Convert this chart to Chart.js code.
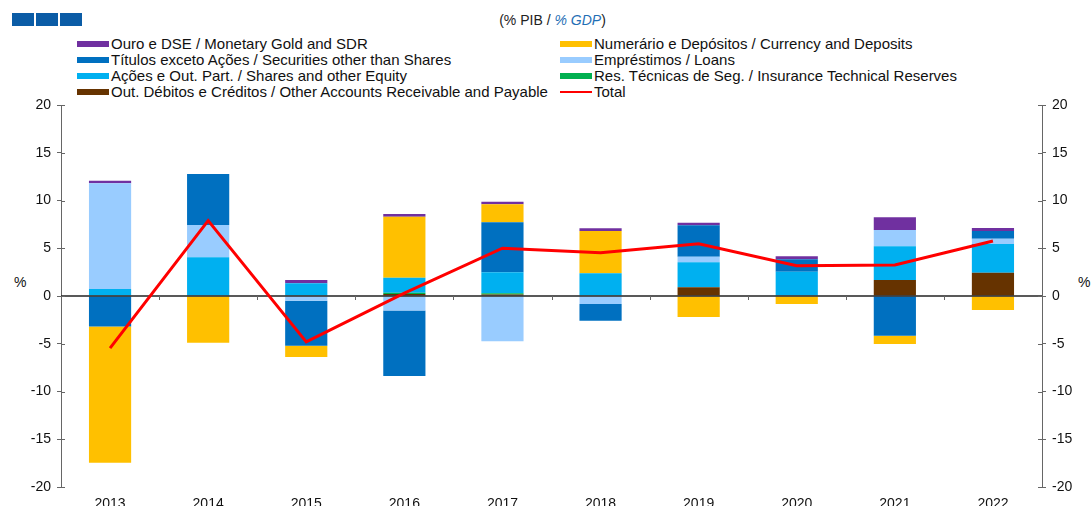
<!DOCTYPE html>
<html>
<head>
<meta charset="utf-8">
<script src="https://cdn.jsdelivr.net/npm/chart.js@4.4.1/dist/chart.umd.min.js"></script>
<style>
  body { margin: 0; background: #fff; font-family: 'Liberation Sans', Arial, sans-serif; }
  #wrap { position: relative; width: 1091px; height: 506px; overflow: hidden; }
  #myChart { position: absolute; left: 0; top: 0; }
  .logo { position: absolute; top: 13px; height: 13px; width: 22px; background: #0b5ca6; }
  #subtitle { position: absolute; top: 12px; left: 0; width: 1105px; text-align: center;
    font-family: 'Liberation Sans Narrow', 'Liberation Sans', Arial, sans-serif; font-size: 14px; color: #222; }
  #subtitle i { color: #1f6fb5; }
  .leg { position: absolute; font-size: 15px; color: #111; white-space: nowrap; line-height: 16px; }
  .leg span.sw { display: inline-block; width: 32px; height: 6px; vertical-align: middle; margin-right: 2px; position: relative; top: -1px; }
  .leg span.ln { display: inline-block; width: 32px; height: 2px; background: #ff0000; vertical-align: middle; margin-right: 2px; position: relative; top: -1px; }
  .pct { position: absolute; top: 274px; font-size: 14px; color: #111; }
</style>
</head>
<body>
<div id="wrap">
  <div class="logo" style="left:12px"></div>
  <div class="logo" style="left:36px"></div>
  <div class="logo" style="left:60px"></div>
  <div id="subtitle">(% PIB / <i>% GDP</i>)</div>
  <div id="legend"></div>
  <div class="pct" style="left:14px">%</div>
  <div class="pct" style="left:1078px">%</div>
  <canvas id="myChart" width="1091" height="506"></canvas>
</div>
<script>
// Categories and series (% of GDP)
const years = ['2013', '2014', '2015', '2016', '2017', '2018', '2019', '2020', '2021', '2022'];
const otherAccounts = [0, 0, 0, 0.2, 0.15, 0, 0.91, 0, 1.68, 2.44];
const insurance = [0, 0, 0, 0.15, 0.13, 0, 0, 0, 0, 0];
const shares = [0.73, 4.05, 1.33, 1.57, 2.2, 2.37, 2.62, 2.55, 3.52, 3.0];
const loans = [11.07, 3.38, -0.5, -1.53, -4.75, -0.84, 0.59, 0, 1.71, 0.56];
const securities = [-3.2, 5.34, -4.7, -6.85, 5.23, -1.74, 3.28, 1.29, -4.15, 0.8];
const currency = [-14.25, -4.89, -1.2, 6.39, 1.89, 4.43, -2.2, -0.84, -0.88, -1.47];
const gold = [0.27, 0, 0.34, 0.28, 0.28, 0.29, 0.28, 0.31, 1.33, 0.32];
const total = [-5.45, 7.89, -4.8, 0.3, 5.0, 4.54, 5.48, 3.18, 3.25, 5.76];
const yTicks = [-20, -15, -10, -5, 0, 5, 10, 15, 20];

// Legend entries in the order shown (two columns)
const legendItems = [
  { label: 'Ouro e DSE / Monetary Gold and SDR', color: '#7030a0' },
  { label: 'Numerário e Depósitos / Currency and Deposits', color: '#ffc000' },
  { label: 'Títulos exceto Ações / Securities other than Shares', color: '#0070c0' },
  { label: 'Empréstimos / Loans', color: '#99ccff' },
  { label: 'Ações e Out. Part. / Shares and other Equity', color: '#00b0f0' },
  { label: 'Res. Técnicas de Seg. / Insurance Technical Reserves', color: '#00b050' },
  { label: 'Out. Débitos e Créditos / Other Accounts Receivable and Payable', color: '#663300' },
  { label: 'Total', color: '#ff0000', line: true }
];

document.addEventListener('DOMContentLoaded', () => {
  const legend = document.getElementById('legend');
  legendItems.forEach((item, i) => {
    const div = document.createElement('div');
    div.className = 'leg';
    div.style.left = (i % 2 === 0 ? 77 : 560) + 'px';
    div.style.top = (36 + Math.floor(i / 2) * 16) + 'px';
    const sw = item.line
      ? '<span class="ln"></span>'
      : `<span class="sw" style="background:${item.color}"></span>`;
    div.innerHTML = sw + item.label;
    legend.appendChild(div);
  });

  const canvas = document.getElementById('myChart');
  const font = { family: "'Liberation Sans', Arial, sans-serif", size: 14 };
  const axisColor = '#666';

  const bar = (label, data, color) => ({
    type: 'bar', label, data, backgroundColor: color, borderWidth: 0,
    stack: 's', order: 1, barPercentage: 0.43, categoryPercentage: 1
  });

  // zero line, inner ticks on y axes and category ticks under the zero line
  const decor = {
    id: 'decor',
    beforeDatasetDraw(chart, args) {
      if (args.index !== 7) return;
      const { ctx, chartArea, scales } = chart;
      const y0 = scales.y.getPixelForValue(0);
      ctx.save();
      ctx.strokeStyle = '#222';
      ctx.lineWidth = 1.5;
      ctx.beginPath();
      ctx.moveTo(chartArea.left, y0);
      ctx.lineTo(chartArea.right, y0);
      ctx.stroke();
      ctx.lineWidth = 1;
      const step = (chartArea.right - chartArea.left) / years.length;
      ctx.beginPath();
      for (let i = 1; i < years.length; i++) {
        const x = Math.round(chartArea.left + i * step) + 0.5;
        ctx.moveTo(x, y0);
        ctx.lineTo(x, y0 + 4);
      }
      ctx.strokeStyle = axisColor;
      yTicks.forEach(v => {
        const y = Math.round(scales.y.getPixelForValue(v)) + 0.5;
        ctx.moveTo(chartArea.left, y);
        ctx.lineTo(chartArea.left + 4, y);
        ctx.moveTo(chartArea.right, y);
        ctx.lineTo(chartArea.right - 4, y);
      });
      ctx.stroke();
      ctx.restore();
    }
  };

  const yAxis = (position, width) => ({
    position,
    min: -20, max: 20,
    afterBuildTicks: s => { s.ticks = yTicks.map(v => ({ value: v })); },
    afterFit: s => { s.width = width; },
    ticks: { color: '#111', font, padding: 6 },
    grid: { drawOnChartArea: false, drawTicks: true, tickLength: 4, color: axisColor },
    border: { color: axisColor, width: 1 }
  });

  new Chart(canvas, {
    data: {
      labels: years,
      datasets: [
        bar('Out. Débitos e Créditos', otherAccounts, '#663300'),
        bar('Res. Técnicas de Seg.', insurance, '#00b050'),
        bar('Ações e Out. Part.', shares, '#00b0f0'),
        bar('Empréstimos', loans, '#99ccff'),
        bar('Títulos exceto Ações', securities, '#0070c0'),
        bar('Numerário e Depósitos', currency, '#ffc000'),
        bar('Ouro e DSE', gold, '#7030a0'),
        {
          type: 'line', label: 'Total', data: total, borderColor: '#ff0000',
          borderWidth: 3, pointRadius: 0, tension: 0, order: 0, yAxisID: 'y'
        }
      ]
    },
    options: {
      responsive: false,
      animation: false,
      layout: { padding: { top: 105, left: 0, right: 0, bottom: 0 } },
      plugins: { legend: { display: false }, tooltip: { enabled: false } },
      scales: {
        x: {
          stacked: true,
          offset: true,
          afterFit: s => { s.height = 19; },
          grid: { display: false },
          border: { display: false },
          ticks: { color: '#111', font, padding: 1, maxRotation: 0 }
        },
        y: { ...yAxis('left', 61), stacked: true },
        y2: { ...yAxis('right', 49) }
      }
    },
    plugins: [decor]
  });
});
</script>
</body>
</html>
